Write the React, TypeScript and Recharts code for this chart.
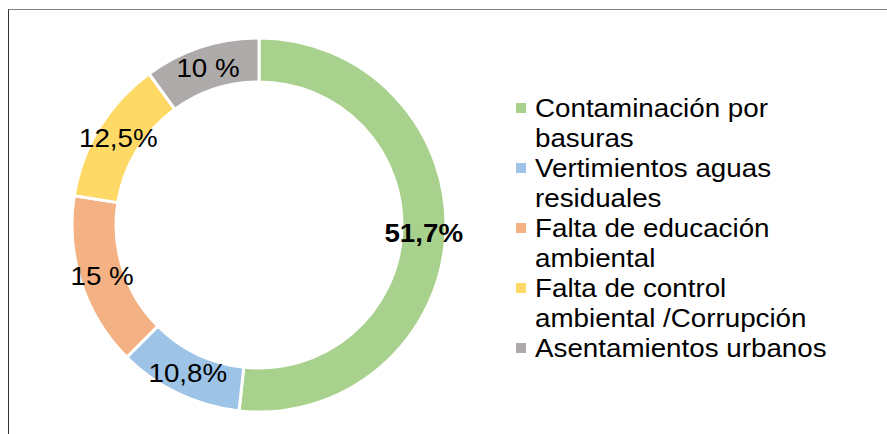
import React from "react";
import { PieChart, Pie, Cell, Legend } from "recharts";

const categories = [
  "Contaminación por basuras",
  "Vertimientos aguas residuales",
  "Falta de educación ambiental",
  "Falta de control ambiental /Corrupción",
  "Asentamientos urbanos",
];
const values = [51.7, 10.8, 15, 12.5, 10];
const labels = ["51,7%", "10,8%", "15 %", "12,5%", "10 %"];

const COLORS = ["#A9D18E", "#9DC3E6", "#F4B183", "#FFD966", "#AEAAAA"];
const FONT = "'Liberation Sans', Arial, sans-serif";
const STRETCH = 1.11;

const data = categories.map((name, i) => ({ name, value: values[i] }));

const RADIAN = Math.PI / 180;

const renderLabel = (props: any) => {
  const { cx, cy, midAngle, innerRadius, outerRadius, index } = props;
  const r = (innerRadius + outerRadius) / 2;
  const x = cx + r * Math.cos(-midAngle * RADIAN);
  const y = cy + r * Math.sin(-midAngle * RADIAN);
  return (
    <text
      transform={`translate(${x},${y}) scale(${STRETCH},1)`}
      textAnchor="middle"
      dominantBaseline="central"
      fontFamily={FONT}
      fontSize={25}
      fontWeight={index === 0 ? "bold" : "normal"}
      fill="#000"
    >
      {labels[index]}
    </text>
  );
};

const renderLegend = () => (
  <div style={{ fontFamily: FONT, fontSize: 25, lineHeight: "30px", color: "#000" }}>
    {categories.map((name, i) => (
      <div key={name} style={{ display: "flex", alignItems: "flex-start" }}>
        <div
          style={{
            width: 10,
            height: 10,
            marginTop: 10,
            background: COLORS[i],
            flex: "none",
          }}
        />
        <div
          style={{
            marginLeft: 9,
            width: 272,
            transform: `scaleX(${STRETCH})`,
            transformOrigin: "left top",
          }}
        >
          {name}
        </div>
      </div>
    ))}
  </div>
);

export default function App() {
  return (
    <div style={{ position: "absolute", left: 0, top: 0, width: 887, height: 434, background: "#fff" }}>
      <div
        style={{
          position: "absolute",
          left: 8,
          top: 9,
          width: 879,
          height: 425,
          borderTop: "1px solid #808080",
          borderLeft: "1px solid #333",
        }}
      />
      <div style={{ position: "absolute", left: 0, top: 0 }}>
        <PieChart width={887} height={434} margin={{ top: 0, right: 0, bottom: 0, left: 0 }}>
          <Pie
            data={data}
            dataKey="value"
            nameKey="name"
            cx={259}
            cy={225}
            innerRadius={143}
            outerRadius={187}
            startAngle={90}
            endAngle={-270}
            stroke="#fff"
            strokeWidth={3}
            label={renderLabel}
            labelLine={false}
            isAnimationActive={false}
          >
            {data.map((_entry, index) => (
              <Cell key={`cell-${index}`} fill={COLORS[index]} />
            ))}
          </Pie>
          <Legend
            content={renderLegend}
            layout="vertical"
            verticalAlign="middle"
            align="right"
            wrapperStyle={{ left: 516, top: 93, width: 340 }}
          />
        </PieChart>
      </div>
    </div>
  );
}
